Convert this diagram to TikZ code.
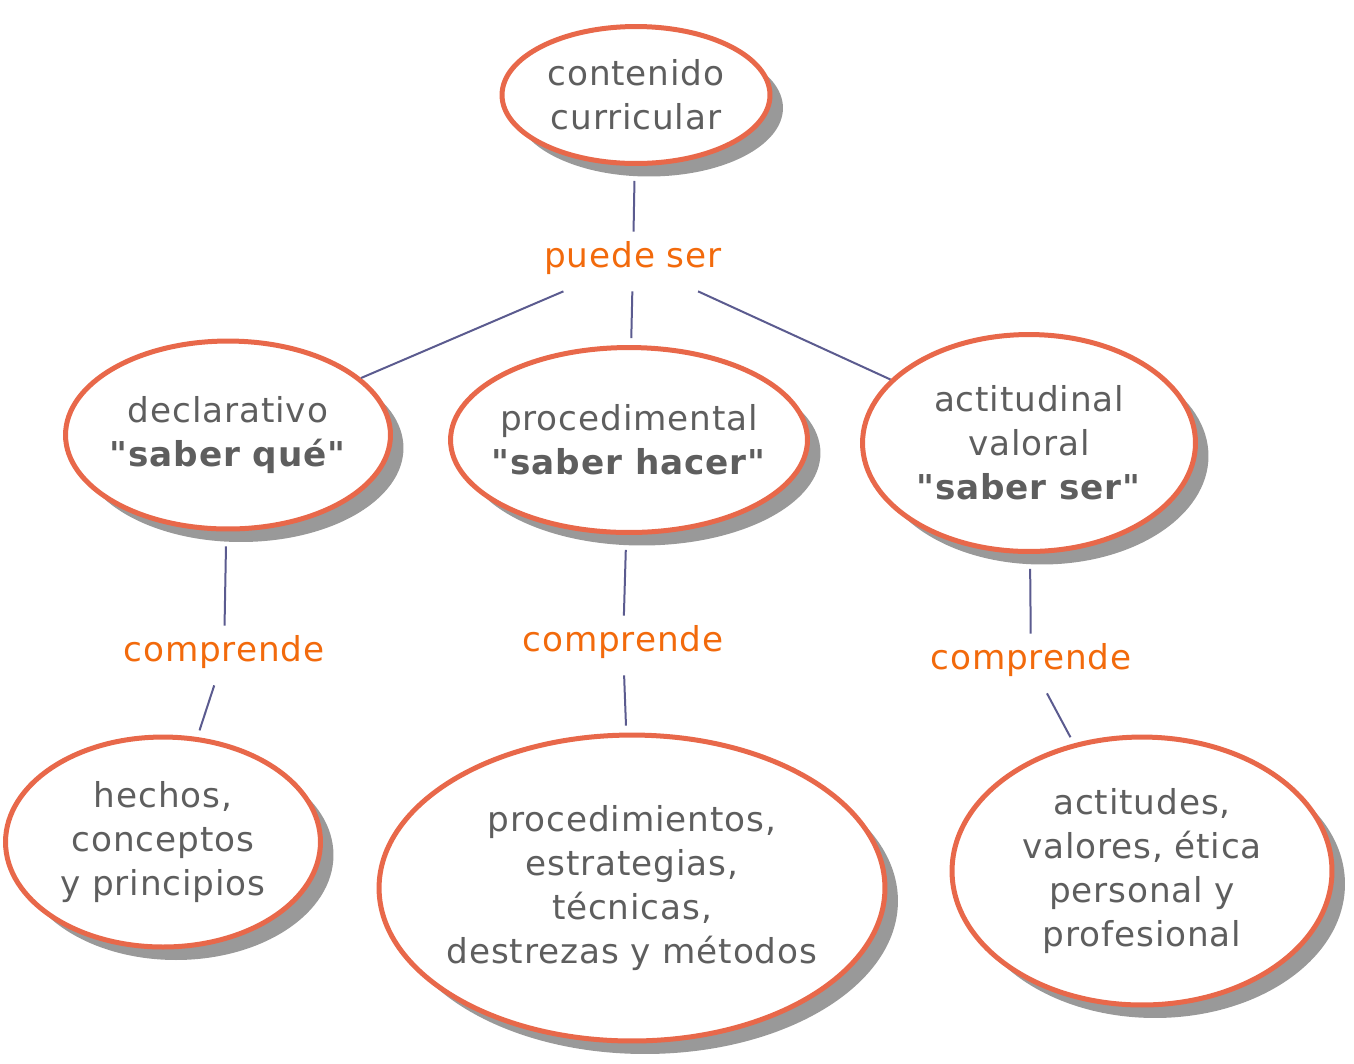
\documentclass[tikz,border=0pt]{standalone}
\usepackage{fontspec}
\setmainfont{DejaVu Sans}[Ligatures=TeXOff,LetterSpace=2.5]
\usepackage{xcolor}
\usetikzlibrary{shapes.geometric}
\usetikzlibrary{shadows}
\definecolor{conceptborder}{RGB}{232,104,74}
\definecolor{concepttext}{RGB}{94,94,94}
\definecolor{linkertext}{RGB}{242,106,12}
\definecolor{connectorline}{RGB}{91,91,143}
\definecolor{conceptshadow}{RGB}{153,153,153}

\begin{document}
\begin{tikzpicture}[x=0.02cm,y=-0.02cm,
        concept/.style={ellipse,draw=conceptborder,line width=0.1cm,fill=white,text=concepttext,
            align=center,inner sep=-0.5cm,font=\fontsize{19.5}{25}\selectfont,
            drop shadow={shadow xshift=0.26cm,shadow yshift=-0.26cm,fill=conceptshadow,opacity=1}},
        linker/.style={anchor=base,text=linkertext,inner sep=0.1cm,text height=0.6cm,text depth=0.38cm,
            font=\fontsize{19.5}{25}\selectfont},
        connector/.style={draw=connectorline,line width=0.04cm}]
        \newcommand{\cmapgapout}{0.3cm}
        \newcommand{\cmapgapin}{0.14cm}
        \useasboundingbox (0,0) rectangle (1354,1063);
        \node[concept,minimum width=5.36cm,minimum height=2.74cm] (contenido) at (636,95) {contenido\\curricular};
        \node[concept,minimum width=6.5cm,minimum height=3.76cm] (declarativo) at (228,435) {declarativo\\\textbf{"saber qué"}};
        \node[concept,minimum width=7.14cm,minimum height=3.7cm] (procedimental) at (629,440) {procedimental\\\textbf{"saber hacer"}};
        \node[concept,minimum width=6.66cm,minimum height=4.34cm] (actitudinal) at (1029,443) {actitudinal\\valoral\\\textbf{"saber ser"}};
        \node[concept,minimum width=6.3cm,minimum height=4.2cm] (hechos) at (163,842) {hechos,\\conceptos\\y principios};
        \node[concept,minimum width=10.12cm,minimum height=6.12cm] (procedimientos) at (632,888) {procedimientos,\\estrategias,\\técnicas,\\destrezas y métodos};
        \node[concept,minimum width=7.6cm,minimum height=5.36cm] (actitudes) at (1142,871) {actitudes,\\valores, ética\\personal y\\profesional};
        \node[linker] (puedeser) at (633,267) {puede ser};
        \node[linker] (comprendedecl) at (224,661) {comprende};
        \node[linker] (comprendeproc) at (623,651) {comprende};
        \node[linker] (comprendeact) at (1031,669) {comprende};
        \draw[connector,shorten <=\cmapgapout] (contenido) -- (puedeser);
        \draw[connector] (puedeser) -- (declarativo);
        \draw[connector,shorten >=\cmapgapin] (puedeser) -- (procedimental);
        \draw[connector] (puedeser) -- (actitudinal);
        \draw[connector,shorten <=\cmapgapout] (declarativo) -- (comprendedecl);
        \draw[connector,shorten <=\cmapgapout] (procedimental) -- (comprendeproc);
        \draw[connector,shorten <=\cmapgapout] (actitudinal) -- (comprendeact);
        \draw[connector,shorten >=\cmapgapin] (comprendedecl) -- (hechos);
        \draw[connector,shorten >=\cmapgapin] (comprendeproc) -- (procedimientos);
        \draw[connector,shorten >=\cmapgapin] (comprendeact) -- (actitudes);
    \end{tikzpicture}
\end{document}
